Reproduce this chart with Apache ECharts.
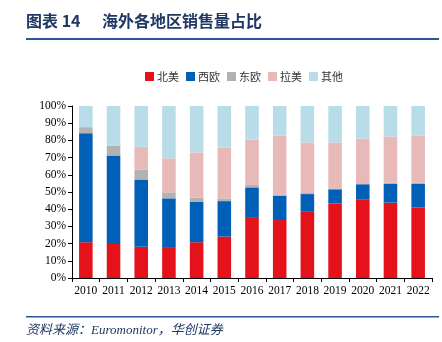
<!DOCTYPE html>
<html>
<head>
    <meta charset="utf-8">
    <title>海外各地区销售量占比</title>
    <script src="https://cdn.jsdelivr.net/npm/echarts@6/dist/echarts.min.js"></script>
    <style>
        html, body { margin: 0; padding: 0; background: #fff; }
    </style>
</head>
<body>
    <div id="myChart" style="width: 442px;height:342px;"></div>
    <script>
        // 数据（%）
        var years = ['2010', '2011', '2012', '2013', '2014', '2015', '2016', '2017', '2018', '2019', '2020', '2021', '2022'];
        var northAmerica = [20.8, 19.8, 18.1, 17.5, 20.8, 24.1, 35.4, 33.7, 38.5, 43.2, 45.5, 43.8, 41.2];
        var westEurope = [63.4, 51.4, 39.1, 28.8, 23.6, 20.6, 17.3, 14.0, 10.3, 8.4, 9.0, 11.1, 13.7];
        var eastEurope = [3.5, 5.8, 5.8, 3.5, 2.3, 1.6, 1.4, 0.9, 0.6, 0.5, 0.6, 0.5, 0.5];
        var latinAmerica = [0, 0, 13.3, 19.8, 26.3, 29.6, 26.3, 34.1, 29.4, 26.7, 26.0, 26.9, 27.3];
        var others = [12.3, 23.0, 23.7, 30.4, 27.0, 24.1, 19.6, 17.3, 21.2, 21.2, 18.9, 17.7, 17.3];

        var myChart = echarts.init(document.getElementById('myChart'));
        var serif = '"Liberation Serif", "Times New Roman", serif';
        var titleColor = '#1f3864';

        function bar(name, data, color) {
            return {
                name: name,
                type: 'bar',
                stack: 'total',
                barWidth: '49%',
                data: data,
                itemStyle: { color: color }
            };
        }

        var option = {
            animation: false,
            textStyle: { fontFamily: serif },
            legend: {
                top: 66,
                left: 140,
                itemWidth: 9,
                itemHeight: 9,
                itemGap: 7,
                icon: 'rect',
                textStyle: { fontSize: 11, color: '#333', fontFamily: '"Noto Sans CJK SC", sans-serif', padding: [0, 0, 0, -2] },
                data: ['北美', '西欧', '东欧', '拉美', '其他']
            },
            grid: { left: 72, right: 10, top: 106, bottom: 64 },
            xAxis: {
                type: 'category',
                data: years,
                axisLine: { lineStyle: { color: '#000' } },
                axisTick: { show: true, length: 4, lineStyle: { color: '#000' } },
                axisLabel: { color: '#000', fontSize: 11.5, fontFamily: serif, margin: 7, interval: 0 }
            },
            yAxis: {
                type: 'value',
                min: 0,
                max: 100,
                interval: 10,
                splitLine: { show: false },
                axisLine: { show: true, lineStyle: { color: '#000' } },
                axisTick: { show: true, length: 4, lineStyle: { color: '#000' } },
                axisLabel: { color: '#000', fontSize: 11.5, fontFamily: serif, formatter: '{value}%', margin: 6 }
            },
            series: [
                bar('北美', northAmerica, '#e3121b'),
                bar('西欧', westEurope, '#0060b8'),
                bar('东欧', eastEurope, '#b2b2b2'),
                bar('拉美', latinAmerica, '#e8b9b9'),
                bar('其他', others, '#b8dde8')
            ],
            graphic: [
                {
                    type: 'text', left: 26, top: 13,
                    style: { text: '图表 14', fill: titleColor, font: 'bold 16px "Noto Sans CJK SC", serif' }
                },
                {
                    type: 'text', left: 102, top: 13,
                    style: { text: '海外各地区销售量占比', fill: titleColor, font: 'bold 16px "Noto Sans CJK SC", serif' }
                },
                {
                    type: 'rect', shape: { x: 26, y: 38, width: 413, height: 2 },
                    style: { fill: '#2f5597' }
                },
                {
                    type: 'rect', shape: { x: 26, y: 316, width: 413, height: 1.5 },
                    style: { fill: '#2f5597' }
                },
                {
                    type: 'text', left: 26, top: 324,
                    style: { text: '资料来源：Euromonitor，华创证券', fill: titleColor, font: 'italic 13px "Liberation Serif", "Noto Sans CJK SC", serif' }
                }
            ]
        };
        myChart.setOption(option);
    </script>
</body>
</html>
